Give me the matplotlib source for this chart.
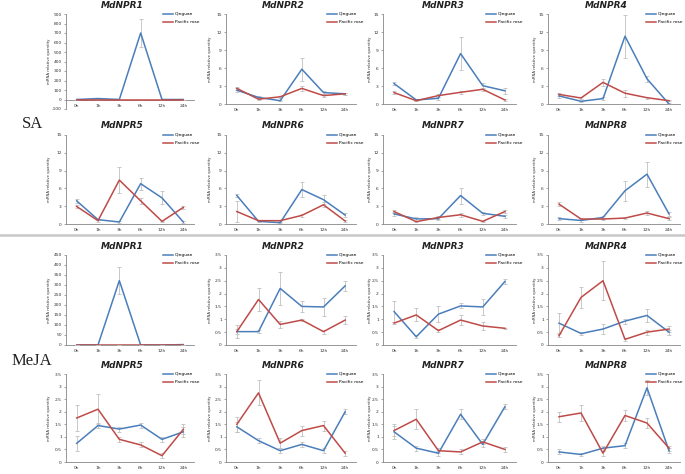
import matplotlib
matplotlib.use("Agg")
import matplotlib.pyplot as plt
from matplotlib.ticker import FuncFormatter, MultipleLocator
from matplotlib.lines import Line2D

W, H = 685, 474
times = ["0h", "1h", "3h", "6h", "12h", "24h"]
genes = ["MdNPR1", "MdNPR2", "MdNPR3", "MdNPR4", "MdNPR5", "MdNPR6", "MdNPR7", "MdNPR8"]
series_names = ["Qinguan", "Pacific rose"]

# ---- SA treatment ----
sa_qinguan = [
    [0, 10, 0, 700, 0, 0],
    [2.3, 1.1, 0.55, 5.8, 1.9, 1.7],
    [3.4, 0.67, 0.95, 8.4, 3.05, 2.2],
    [1.35, 0.45, 0.9, 11.3, 4.2, 0.0],
    [3.9, 0.73, 0.34, 6.8, 4.4, 0.34],
    [4.8, 0.45, 0.22, 5.8, 4.1, 1.5],
    [1.7, 0.85, 0.9, 4.8, 1.8, 1.3],
    [0.9, 0.6, 1.1, 5.6, 8.4, 1.7],
]
sa_qinguan_err = [
    [0, 0, 0, 150, 0, 0],
    [0.3, 0.2, 0.1, 1.9, 0.3, 0.2],
    [0.3, 0.1, 0.2, 2.8, 0.5, 0.5],
    [0.3, 0.1, 0.2, 3.6, 0.5, 0.1],
    [0.3, 0.1, 0.1, 1.0, 1.1, 0.2],
    [0.3, 0.1, 0.1, 1.2, 0.8, 0.3],
    [0.3, 0.3, 0.2, 1.35, 0.3, 0.3],
    [0.2, 0.2, 0.2, 1.7, 2.1, 0.3],
]
sa_pacific = [
    [0, 0, 0, 0, 0, 0],
    [2.6, 0.8, 1.2, 2.6, 1.4, 1.7],
    [1.9, 0.55, 1.4, 1.95, 2.45, 0.67],
    [1.6, 1.0, 3.6, 1.8, 1.05, 0.55],
    [2.96, 0.56, 7.4, 3.9, 0.45, 2.8],
    [2.1, 0.56, 0.56, 1.45, 3.24, 0.5],
    [2.1, 0.39, 1.1, 1.56, 0.45, 2.1],
    [3.35, 0.84, 0.84, 1.0, 1.85, 0.9],
]
sa_pacific_err = [
    [0, 0, 0, 0, 0, 0],
    [0.3, 0.2, 0.2, 0.4, 0.2, 0.2],
    [0.2, 0.1, 0.2, 0.2, 0.3, 0.1],
    [0.3, 0.2, 0.6, 0.6, 0.2, 0.1],
    [0.3, 0.2, 2.2, 0.5, 0.1, 0.3],
    [1.7, 0.1, 0.1, 0.2, 0.4, 0.1],
    [0.3, 0.1, 0.2, 0.3, 0.1, 0.3],
    [0.3, 0.2, 0.1, 0.2, 0.3, 0.2],
]

# ---- MeJA treatment ----
meja_qinguan = [
    [0, 0, 322, 0, 0, 2],
    [0.52, 0.52, 2.2, 1.5, 1.48, 2.3],
    [1.3, 0.32, 1.2, 1.52, 1.48, 2.47],
    [0.85, 0.45, 0.62, 0.93, 1.15, 0.5],
    [0.74, 1.45, 1.31, 1.47, 0.9, 1.2],
    [1.4, 0.85, 0.45, 0.7, 0.45, 2.0],
    [1.2, 0.55, 0.35, 1.9, 0.7, 2.2],
    [0.4, 0.3, 0.55, 0.65, 2.95, 0.45],
]
meja_qinguan_err = [
    [0, 0, 68, 0, 0, 0],
    [0.25, 0.05, 0.65, 0.2, 0.35, 0.2],
    [0.4, 0.05, 0.3, 0.1, 0.3, 0.1],
    [0.4, 0.05, 0.2, 0.1, 0.25, 0.1],
    [0.3, 0.1, 0.1, 0.1, 0.1, 0.2],
    [0.2, 0.1, 0.1, 0.1, 0.1, 0.1],
    [0.3, 0.1, 0.1, 0.2, 0.1, 0.1],
    [0.1, 0.05, 0.1, 0.1, 0.3, 0.1],
]
meja_pacific = [
    [0, 0, 0, 0, 0, 0],
    [0.52, 1.77, 0.8, 0.97, 0.52, 0.97],
    [0.85, 1.17, 0.56, 0.97, 0.74, 0.65],
    [0.36, 1.85, 2.5, 0.22, 0.5, 0.62],
    [1.75, 2.1, 0.9, 0.68, 0.25, 1.3],
    [1.5, 2.75, 0.75, 1.25, 1.45, 0.35],
    [1.25, 1.7, 0.45, 0.4, 0.8, 0.5],
    [1.8, 1.95, 0.35, 1.85, 1.55, 0.55],
]
meja_pacific_err = [
    [0, 0, 0, 0, 0, 0],
    [0.1, 0.45, 0.15, 0.05, 0.08, 0.15],
    [0.05, 0.25, 0.05, 0.2, 0.15, 0.03],
    [0.05, 0.4, 0.75, 0.05, 0.1, 0.1],
    [0.5, 0.6, 0.1, 0.1, 0.1, 0.2],
    [0.3, 0.5, 0.2, 0.2, 0.2, 0.1],
    [0.2, 0.4, 0.1, 0.1, 0.1, 0.1],
    [0.2, 0.3, 0.1, 0.2, 0.2, 0.1],
]

BLUE = "#4a7ebb"
RED = "#be4b48"
ERR = "#c0c0c0"
AXC = "#868686"

fig = plt.figure(figsize=(W / 100, H / 100), dpi=100)
plt.rcParams["font.family"] = ["DejaVu Sans"]

cols = [(66, 194), (226, 356), (383, 516), (548, 680)]
rows = [(14, 104), (135, 224), (255, 345), (374, 462)]
title_x = [122, 283, 443, 606]
title_y = [5, 126, 247, 366]
leg_x = [163, 327, 486, 646]
ylabel_x = [49, 210, 370, 535]


def fx(px):
    return px / W


def fy(py):
    return 1 - py / H


def fmt(v, pos):
    return "%g" % v


def draw(ax, q, qe, p, pe, ylim, step):
    x = list(range(len(times)))
    ax.errorbar(x, q, yerr=qe, color=BLUE, lw=1.1, ecolor=ERR, elinewidth=0.6,
                capsize=1.2, capthick=0.6, zorder=3)
    ax.errorbar(x, p, yerr=pe, color=RED, lw=1.1, ecolor=ERR, elinewidth=0.6,
                capsize=1.2, capthick=0.6, zorder=3)
    ax.set_xlim(-0.5, len(times) - 0.5)
    ax.set_ylim(*ylim)
    ax.yaxis.set_major_locator(MultipleLocator(step))
    ax.yaxis.set_major_formatter(FuncFormatter(fmt))
    ax.set_xticks(x)
    ax.set_xticklabels(times)
    for s in ["top", "right"]:
        ax.spines[s].set_visible(False)
    for s in ["left", "bottom"]:
        ax.spines[s].set_color(AXC)
        ax.spines[s].set_linewidth(0.6)
    if ylim[0] < 0:
        ax.spines["bottom"].set_position(("data", 0))
    ax.tick_params(axis="both", labelsize=3.2, colors="#333333", length=1.5,
                   width=0.5, pad=1.5)
    ax.tick_params(axis="x", length=0, pad=3)
    ax.tick_params(axis="y", color=AXC)
    ax.patch.set_alpha(0)


panel_data = [
    (sa_qinguan, sa_qinguan_err, sa_pacific, sa_pacific_err),
    (meja_qinguan, meja_qinguan_err, meja_pacific, meja_pacific_err),
]

for gi in range(8):
    for ti, (Q, QE, P, PE) in enumerate(panel_data):
        r = ti * 2 + gi // 4
        c = gi % 4
        x0, x1 = cols[c]
        y0, y1 = rows[r]
        if ti == 0 and gi == 0:
            ylim, step = (-100, 900), 100
            y1b = 109
        elif ti == 0:
            ylim, step = (0, 15), 3
            y1b = y1
        elif gi == 0:
            ylim, step = (0, 450), 50
            y1b = y1
        else:
            ylim, step = (0, 3.5), 0.5
            y1b = y1
        ax = fig.add_axes([fx(x0), fy(y1b), (x1 - x0) / W, (y1b - y0) / H])
        draw(ax, Q[gi], QE[gi], P[gi], PE[gi], ylim, step)
        fig.text(fx(title_x[c]), fy(title_y[r]), genes[gi], ha="center", va="center",
                 fontsize=6.5, fontweight="bold", fontstyle="italic", color="#222222")
        fig.text(fx(ylabel_x[c]), fy((y0 + y1b) / 2), "mRNA relative quantity",
                 rotation=90, ha="center", va="center", fontsize=2.8, color="#333333")
        handles = [Line2D([0], [0], color=BLUE, lw=1.1), Line2D([0], [0], color=RED, lw=1.1)]
        fig.legend(handles, series_names, loc="upper left",
                   bbox_to_anchor=(fx(leg_x[c]), fy(y0 - 2)), frameon=False,
                   fontsize=3.2, handlelength=2.3, handletextpad=0.4,
                   labelspacing=0.9, borderpad=0, borderaxespad=0)

# separator line
fig.add_artist(Line2D([0, 1], [fy(235), fy(235)], transform=fig.transFigure,
                      color="#c8c8c8", lw=1.8))

fig.text(fx(22), fy(124), "SA", ha="left", va="center", fontsize=12,
         family="Liberation Serif", color="#222222")
fig.text(fx(12), fy(361), "MeJA", ha="left", va="center", fontsize=12,
         family="Liberation Serif", color="#222222")

fig.savefig("out.png", dpi=100, facecolor="white")
